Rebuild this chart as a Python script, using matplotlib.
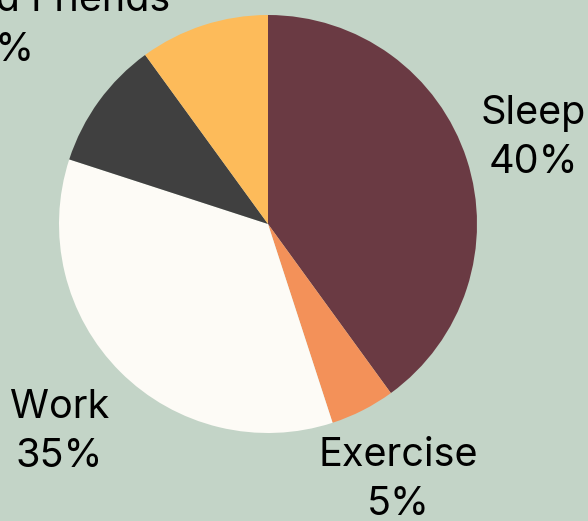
import matplotlib
matplotlib.use('Agg')
import matplotlib.pyplot as plt
import numpy as np

labels = ['Sleep', 'Exercise', 'Work', 'Family and Friends', 'Hobbies']
shares = [40, 5, 35, 10, 10]
colors = ['#6a3a43', '#f39159', '#fdfbf6', '#404040', '#fdbb5a']
# how far out each label sits (in radii)
label_dist = [1.335, 1.375, 1.41, 1.62, 1.60]

bg = '#c3d4c7'
fig = plt.figure(figsize=(5.88, 5.21), dpi=100, facecolor=bg)
ax = fig.add_axes([0, 0, 1, 1])
ax.set_facecolor(bg)

wedges, _ = ax.pie(shares, colors=colors, startangle=90, counterclock=False,
                   radius=1, center=(0, 0))

for w, lab, val, d in zip(wedges, labels, shares, label_dist):
    mid = np.deg2rad((w.theta1 + w.theta2) / 2)
    ax.text(d * np.cos(mid), d * np.sin(mid), f'{lab}\n{val}%',
            ha='center', va='center', fontsize=28.5, family='Inter',
            linespacing=1.42, color='black')

# centre at pixel (268, 224), radius 209 px
s = 209.0
ax.set_xlim(-268 / s, (588 - 268) / s)
ax.set_ylim(-(521 - 224) / s, 224 / s)
ax.set_aspect('auto')
ax.axis('off')

fig.savefig('out.png', dpi=100, facecolor=bg)
